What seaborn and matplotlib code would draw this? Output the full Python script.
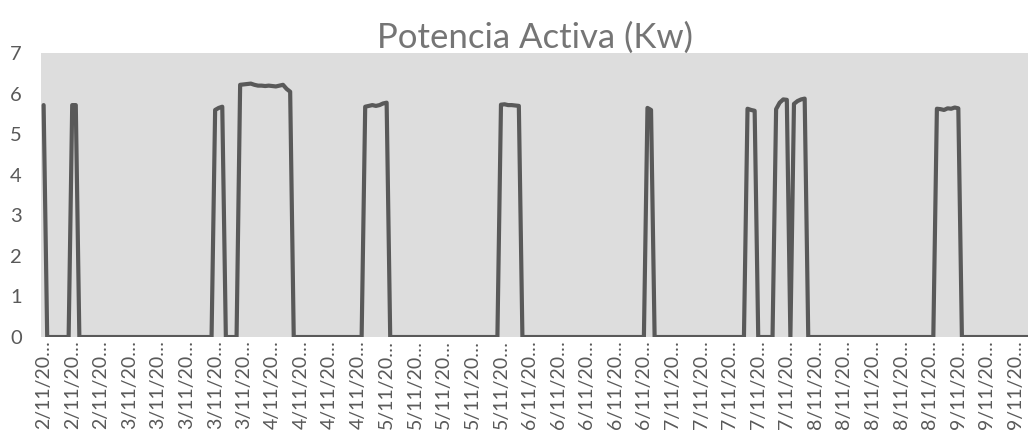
import numpy as np
import matplotlib
matplotlib.use("Agg")
import matplotlib.pyplot as plt
import seaborn as sns

# Potencia activa (kW), una muestra cada ~1/8 de intervalo de etiqueta
potencia = (
    [5.72] + [0] * 7 + [5.72, 5.72] + [0] * 38
    + [5.60, 5.65, 5.68] + [0] * 4
    + [6.22, 6.23, 6.24, 6.25, 6.22, 6.20, 6.20, 6.19, 6.20, 6.19, 6.18, 6.20, 6.22, 6.12, 6.05]
    + [0] * 20
    + [5.68, 5.70, 5.72, 5.70, 5.72, 5.76, 5.78] + [0] * 31
    + [5.73, 5.74, 5.72, 5.72, 5.71, 5.70] + [0] * 35
    + [5.65, 5.60] + [0] * 26
    + [5.63, 5.60, 5.58] + [0] * 5
    + [5.62, 5.78, 5.86, 5.85] + [0]
    + [5.75, 5.82, 5.86, 5.88] + [0] * 36
    + [5.63, 5.62, 5.60, 5.64, 5.63, 5.66, 5.64] + [0] * 20
)

dias = [2] * 3 + [3] * 5 + [4] * 4 + [5] * 5 + [6] * 5 + [7] * 5 + [8] * 5 + [9] * 3
etiquetas = [f"{d}/11/20\u2026" for d in dias]
paso = 8

muestra = np.arange(len(potencia))

sns.set_theme(style="white")
plt.rcParams['font.family'] = ['Lato', 'DejaVu Sans']

fig, ax = plt.subplots(figsize=(10.28, 4.36), dpi=100)
fig.subplots_adjust(left=0.040, right=1.0, top=0.878, bottom=0.227)

sns.lineplot(x=muestra, y=potencia, ax=ax, color="#595959", linewidth=3.0)

ax.set_facecolor("#dddddd")
for s in ax.spines.values():
    s.set_visible(False)

ax.set_xlim(-0.7, 275.5)
ax.set_ylim(0, 7)
ax.set_yticks(range(0, 8))
ax.set_xticks(np.arange(0, len(etiquetas) * paso, paso))
ax.set_xticklabels(etiquetas, rotation=90)
ax.tick_params(axis="x", length=0, pad=2, labelsize=14, labelcolor="#595959")
ax.tick_params(axis="y", length=0, pad=14, labelsize=14.5, labelcolor="#595959")
ax.set_xlabel("")
ax.set_ylabel("")
ax.set_title("Potencia Activa (Kw)", fontsize=25, color="#757575", pad=4)

fig.savefig("out.png", dpi=100)
